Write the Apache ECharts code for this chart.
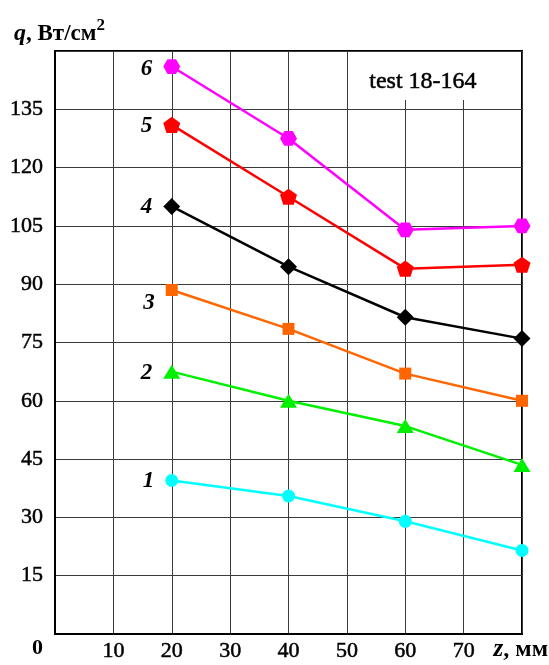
<!DOCTYPE html>
<html>
<head>
<meta charset="utf-8">
<script src="https://cdn.jsdelivr.net/npm/echarts@6/dist/echarts.min.js"></script>
<style>
  html, body { margin: 0; padding: 0; background: #fff; }
  #chart { width: 549px; height: 665px; }
</style>
</head>
<body>
<div id="chart"></div>
<script>
// Axial distance along the test section, mm
const zValues = [20, 40, 60, 80];

// Heat flux q, W/cm^2, for curves 1..6
const curve1 = [39.5, 35.5, 29, 21.5];
const curve2 = [67.5, 60, 53.5, 43.5];
const curve3 = [88.5, 78.5, 67, 60];
const curve4 = [110, 94.5, 81.5, 76];
const curve5 = [131, 112.5, 94, 95];
const curve6 = [146, 127.5, 104, 105];

const curveNames = ['1', '2', '3', '4', '5', '6'];
const xTicks = [10, 20, 30, 40, 50, 60, 70];
const yTicks = [15, 30, 45, 60, 75, 90, 105, 120, 135];

const FONT = '"Liberation Serif", "Times New Roman", serif';
// slight outline to give the serif tick labels a heavier weight
const HEAVY = { textBorderColor: '#000', textBorderWidth: 0.5 };

const hexagon = 'path://M-1,0 L-0.5,-0.866 L0.5,-0.866 L1,0 L0.5,0.866 L-0.5,0.866 Z';
const pentagon = 'path://M0,-1 L0.951,-0.309 L0.588,0.809 L-0.588,0.809 L-0.951,-0.309 Z';

const styles = [
  { values: curve1, color: '#00ffff', symbol: 'circle', size: 13, offset: [0, 1] },
  { values: curve2, color: '#00f000', symbol: 'triangle', size: [17, 14], offset: [0, 1] },
  { values: curve3, color: '#ff6600', symbol: 'rect', size: 12, offset: [0, 13] },
  { values: curve4, color: '#000000', symbol: 'diamond', size: 17, offset: [0, 1] },
  { values: curve5, color: '#ff0000', symbol: pentagon, size: 17, offset: [0, 1] },
  { values: curve6, color: '#ff00ff', symbol: hexagon, size: 17, offset: [0, 3] }
];

const series = styles.map((s, i) => ({
  name: curveNames[i],
  type: 'line',
  symbol: s.symbol,
  symbolSize: s.size,
  symbolKeepAspect: true,
  color: s.color,
  lineStyle: { color: s.color, width: 2.5 },
  itemStyle: { color: s.color },
  data: zValues.map((z, k) => {
    const item = { value: [z, s.values[k]] };
    if (k === 0) {
      item.label = {
        show: true,
        position: 'left',
        distance: 11,
        offset: s.offset,
        formatter: curveNames[i],
        fontFamily: FONT,
        fontSize: 23,
        fontStyle: 'italic',
        fontWeight: 'bold',
        color: '#000'
      };
    }
    return item;
  }),
  emphasis: { disabled: true },
  z: 3 + i
}));

const chart = echarts.init(document.getElementById('chart'), null, { renderer: 'canvas' });

chart.setOption({
  animation: false,
  backgroundColor: '#fff',
  grid: {
    left: 55, right: 27, top: 51, bottom: 31,
    show: true, borderColor: '#000', borderWidth: 2, backgroundColor: 'transparent'
  },
  xAxis: {
    type: 'value',
    min: 0, max: 80, interval: 10,
    axisLine: { show: true, lineStyle: { color: '#000', width: 2 } },
    axisTick: { show: false },
    splitLine: { show: true, lineStyle: { color: '#3a3a3a', width: 1 } },
    axisLabel: Object.assign({
      margin: 6,
      fontFamily: FONT, fontSize: 22, color: '#000',
      formatter: v => (xTicks.indexOf(v) >= 0 ? String(v) : '')
    }, HEAVY)
  },
  yAxis: {
    type: 'value',
    min: 0, max: 150, interval: 15,
    axisLine: { show: true, lineStyle: { color: '#000', width: 2 } },
    axisTick: { show: false },
    splitLine: { show: true, lineStyle: { color: '#3a3a3a', width: 1 } },
    axisLabel: Object.assign({
      margin: 12,
      fontFamily: FONT, fontSize: 22, color: '#000',
      formatter: v => (yTicks.indexOf(v) >= 0 ? String(v) : '')
    }, HEAVY)
  },
  graphic: [
    // white box behind the run identifier
    {
      type: 'rect', left: 360, top: 52, z: 10,
      shape: { width: 124, height: 48 },
      style: { fill: '#fff' }
    },
    {
      type: 'text', left: 369, top: 69, z: 11,
      style: { text: 'test 18-164', font: '24px ' + FONT, fill: '#000', stroke: '#000', lineWidth: 0.5 }
    },
    // y axis title
    {
      type: 'text', left: 14, top: 17, z: 11,
      style: {
        text: '{i|q}{r|, Вт/см}{s|2}',
        fill: '#000',
        font: '23px ' + FONT,
        rich: {
          i: { fontFamily: FONT, fontSize: 24, fontStyle: 'italic', fontWeight: 'bold', fill: '#000', verticalAlign: 'bottom' },
          r: { fontFamily: FONT, fontSize: 23, fontWeight: 'bold', fill: '#000', verticalAlign: 'bottom' },
          s: { fontFamily: FONT, fontSize: 17, fontWeight: 'bold', fill: '#000', verticalAlign: 'top', padding: [0, 0, 12, 0] }
        }
      }
    },
    // origin label
    {
      type: 'text', left: 32, top: 637, z: 11,
      style: { text: '0', font: 'bold 22px ' + FONT, fill: '#000' }
    },
    // x axis title
    {
      type: 'text', right: 1, top: 637, z: 11,
      style: {
        text: '{i|z}{r|, мм}',
        fill: '#000',
        font: '24px ' + FONT,
        rich: {
          i: { fontFamily: FONT, fontSize: 25, fontStyle: 'italic', fontWeight: 'bold', fill: '#000' },
          r: { fontFamily: FONT, fontSize: 24, fontWeight: 'bold', fill: '#000' }
        }
      }
    }
  ],
  series: series
});
</script>
</body>
</html>
